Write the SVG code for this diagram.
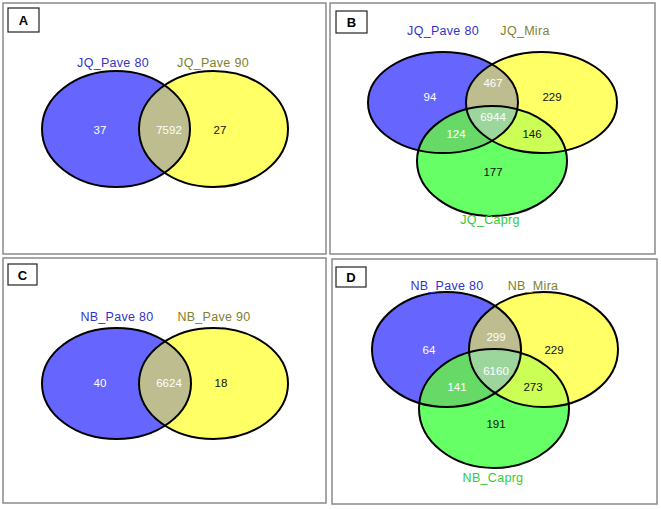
<svg xmlns="http://www.w3.org/2000/svg" width="661" height="509" viewBox="0 0 661 509">
<style>
.frame{fill:#fff;stroke:#8a8a8a;stroke-width:1.5}
.tag{fill:#fff;stroke:#222;stroke-width:1.2}
.tagt{font-family:"Liberation Sans",Arial,sans-serif;font-size:13px;font-weight:bold;fill:#000;text-anchor:middle}
.lab{font-family:"Liberation Sans",Arial,sans-serif;font-size:12.5px;letter-spacing:0.3px;text-anchor:middle}
.num{font-family:"Liberation Sans",Arial,sans-serif;font-size:11.5px;text-anchor:middle}
.w{fill:#fff}.k{fill:#111}
.lb{fill:#3333cc}.ly{fill:#808030}.lg{fill:#33cc33}
.out{fill:none;stroke:#000;stroke-width:2}
.blue{fill:#6666ff}.yel{fill:#ffff66}.grn{fill:#66ff66}
.by{fill:#bdbd8f}.bg{fill:#66d966}.yg{fill:#ccff55}.byg{fill:#9dd69d}
</style>
<defs>
<clipPath id="cA_y"><ellipse cx="213.5" cy="129" rx="74.5" ry="58"/></clipPath>
<clipPath id="cB_y"><ellipse cx="541.5" cy="102.5" rx="75.5" ry="50.5"/></clipPath>
<clipPath id="cB_g"><ellipse cx="492" cy="161" rx="75" ry="55"/></clipPath>
<clipPath id="cC_y"><ellipse cx="213.5" cy="383.5" rx="74.5" ry="55.5"/></clipPath>
<clipPath id="cD_y"><ellipse cx="543.5" cy="349.5" rx="74.5" ry="57.5"/></clipPath>
<clipPath id="cD_g"><ellipse cx="494" cy="408.5" rx="75" ry="59.5"/></clipPath>
</defs>

<g id="panelA">
<rect class="frame" x="3" y="3" width="323" height="251"/>
<rect class="tag" x="8" y="8" width="31" height="24"/>
<text class="tagt" x="23.5" y="25">A</text>
<ellipse class="blue" cx="116" cy="129" rx="74" ry="58"/>
<ellipse class="yel" cx="213.5" cy="129" rx="74.5" ry="58"/>
<ellipse class="by" cx="116" cy="129" rx="74" ry="58" clip-path="url(#cA_y)"/>
<ellipse class="out" cx="116" cy="129" rx="74" ry="58"/>
<ellipse class="out" cx="213.5" cy="129" rx="74.5" ry="58"/>
<text class="lab lb" x="113" y="67">JQ_Pave 80</text>
<text class="lab ly" x="213" y="67">JQ_Pave 90</text>
<text class="num w" x="100" y="134">37</text>
<text class="num w" x="169" y="134">7592</text>
<text class="num k" x="220" y="134">27</text>
</g>

<g id="panelB">
<rect class="frame" x="330" y="3" width="325" height="251"/>
<rect class="tag" x="336" y="11" width="31" height="22"/>
<text class="tagt" x="351.5" y="27">B</text>
<ellipse class="blue" cx="443" cy="102.5" rx="75" ry="50.5"/>
<ellipse class="yel" cx="541.5" cy="102.5" rx="75.5" ry="50.5"/>
<ellipse class="grn" cx="492" cy="161" rx="75" ry="55"/>
<ellipse class="by" cx="443" cy="102.5" rx="75" ry="50.5" clip-path="url(#cB_y)"/>
<ellipse class="bg" cx="443" cy="102.5" rx="75" ry="50.5" clip-path="url(#cB_g)"/>
<ellipse class="yg" cx="541.5" cy="102.5" rx="75.5" ry="50.5" clip-path="url(#cB_g)"/>
<g clip-path="url(#cB_g)"><ellipse class="byg" cx="443" cy="102.5" rx="75" ry="50.5" clip-path="url(#cB_y)"/></g>
<ellipse class="out" cx="443" cy="102.5" rx="75" ry="50.5"/>
<ellipse class="out" cx="541.5" cy="102.5" rx="75.5" ry="50.5"/>
<ellipse class="out" cx="492" cy="161" rx="75" ry="55"/>
<text class="lab lb" x="443" y="35">JQ_Pave 80</text>
<text class="lab ly" x="525" y="35">JQ_Mira</text>
<text class="lab lg" x="490" y="224">JQ_Caprg</text>
<text class="num w" x="430" y="101">94</text>
<text class="num w" x="493" y="87">467</text>
<text class="num k" x="552" y="101">229</text>
<text class="num w" x="493" y="121">6944</text>
<text class="num w" x="456" y="138">124</text>
<text class="num k" x="532" y="138">146</text>
<text class="num k" x="493" y="176">177</text>
</g>

<g id="panelC">
<rect class="frame" x="3" y="258" width="323" height="245"/>
<rect class="tag" x="8" y="264" width="29" height="21"/>
<text class="tagt" x="22.5" y="279.5">C</text>
<ellipse class="blue" cx="116.5" cy="383.5" rx="74.5" ry="55.5"/>
<ellipse class="yel" cx="213.5" cy="383.5" rx="74.5" ry="55.5"/>
<ellipse class="by" cx="116.5" cy="383.5" rx="74.5" ry="55.5" clip-path="url(#cC_y)"/>
<ellipse class="out" cx="116.5" cy="383.5" rx="74.5" ry="55.5"/>
<ellipse class="out" cx="213.5" cy="383.5" rx="74.5" ry="55.5"/>
<text class="lab lb" x="117" y="321">NB_Pave 80</text>
<text class="lab ly" x="214" y="321">NB_Pave 90</text>
<text class="num w" x="100" y="387">40</text>
<text class="num w" x="169" y="387">6624</text>
<text class="num k" x="221" y="387">18</text>
</g>

<g id="panelD">
<rect class="frame" x="332" y="259" width="325" height="245"/>
<rect class="tag" x="336" y="267" width="30" height="20"/>
<text class="tagt" x="351" y="282">D</text>
<ellipse class="blue" cx="446.5" cy="349.5" rx="74.5" ry="57.5"/>
<ellipse class="yel" cx="543.5" cy="349.5" rx="74.5" ry="57.5"/>
<ellipse class="grn" cx="494" cy="408.5" rx="75" ry="59.5"/>
<ellipse class="by" cx="446.5" cy="349.5" rx="74.5" ry="57.5" clip-path="url(#cD_y)"/>
<ellipse class="bg" cx="446.5" cy="349.5" rx="74.5" ry="57.5" clip-path="url(#cD_g)"/>
<ellipse class="yg" cx="543.5" cy="349.5" rx="74.5" ry="57.5" clip-path="url(#cD_g)"/>
<g clip-path="url(#cD_g)"><ellipse class="byg" cx="446.5" cy="349.5" rx="74.5" ry="57.5" clip-path="url(#cD_y)"/></g>
<ellipse class="out" cx="446.5" cy="349.5" rx="74.5" ry="57.5"/>
<ellipse class="out" cx="543.5" cy="349.5" rx="74.5" ry="57.5"/>
<ellipse class="out" cx="494" cy="408.5" rx="75" ry="59.5"/>
<text class="lab lb" x="447" y="290">NB_Pave 80</text>
<text class="lab ly" x="533" y="290">NB_Mira</text>
<text class="lab lg" x="493" y="482">NB_Caprg</text>
<text class="num w" x="429" y="354">64</text>
<text class="num w" x="496" y="341">299</text>
<text class="num k" x="554" y="354">229</text>
<text class="num w" x="496" y="375">6160</text>
<text class="num w" x="457" y="391">141</text>
<text class="num k" x="533" y="391">273</text>
<text class="num k" x="496" y="428">191</text>
</g>
</svg>
